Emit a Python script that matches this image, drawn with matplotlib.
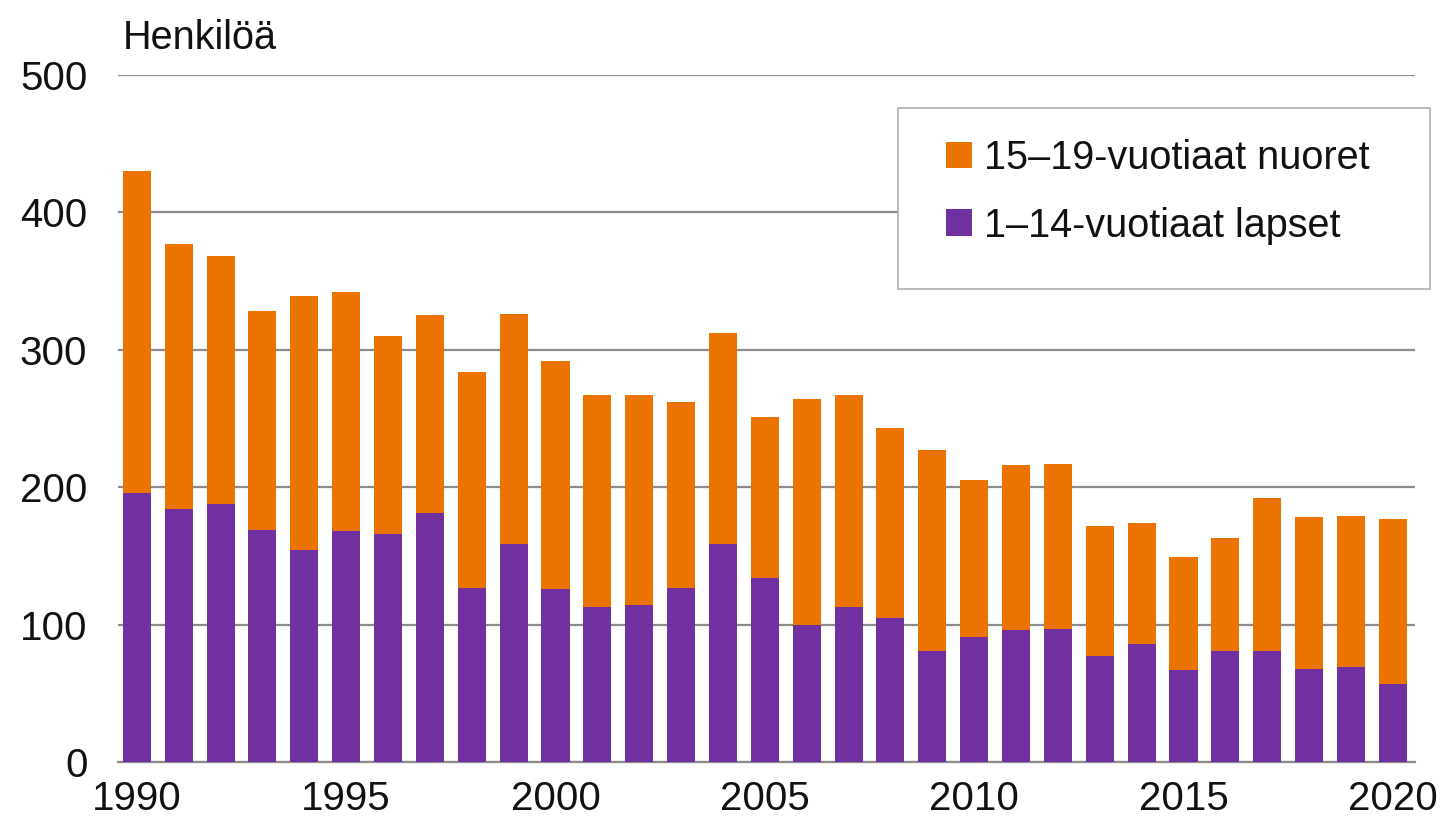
import matplotlib.pyplot as plt
from matplotlib.patches import Rectangle
import numpy as np

plt.rcParams['font.family'] = ['Liberation Sans', 'DejaVu Sans']

years = np.arange(1990, 2021)
total = [430, 377, 368, 328, 339, 342, 310, 325, 284, 326,
         292, 267, 267, 262, 312, 251, 264, 267, 243, 227,
         205, 216, 217, 172, 174, 149, 163, 192, 178, 179, 177]
children = [196, 184, 188, 169, 154, 168, 166, 181, 127, 159,
            126, 113, 114, 127, 159, 134, 100, 113, 105, 81,
            91, 96, 97, 77, 86, 67, 81, 81, 68, 69, 57]
youth = [t - c for t, c in zip(total, children)]

orange = '#EB7400'
purple = '#7030A0'

W, H = 1441, 827
fig = plt.figure(figsize=(W/100, H/100), dpi=100)
ax = fig.add_axes([118/W, 1 - 762/H, (1415-118)/W, (762-75)/H])

ax.bar(years, children, width=0.67, color=purple, label='1–14-vuotiaat lapset', zorder=3)
ax.bar(years, youth, width=0.67, bottom=children, color=orange,
       label='15–19-vuotiaat nuoret', zorder=3)

ax.set_ylim(0, 500)
ax.set_xlim(1989.55, 2020.53)
ax.set_yticks([0, 100, 200, 300, 400, 500])
ax.set_xticks([1990, 1995, 2000, 2005, 2010, 2015, 2020])
ax.yaxis.grid(True, color='#8c8c8c', linewidth=1.6, zorder=0)
ax.tick_params(axis='both', length=0, labelsize=29, colors='#111111')
ax.tick_params(axis='y', pad=22)
ax.tick_params(axis='x', pad=13)
for s in ['top', 'right', 'left']:
    ax.spines[s].set_visible(False)
ax.spines['bottom'].set_color('#8c8c8c')
ax.spines['bottom'].set_linewidth(1.6)

fig.text(123/W, 1 - 38/H, 'Henkilöä', fontsize=28.5, va='center', ha='left', color='#111111')

# legend box
box = Rectangle((898/W, 1 - 289/H), (1430-898)/W, (289-108)/H,
                transform=fig.transFigure, facecolor='white',
                edgecolor='#b0b0b0', linewidth=1.2, zorder=4)
fig.patches.append(box)

h, l = ax.get_legend_handles_labels()
leg = fig.legend(h[::-1], l[::-1], loc='upper left',
                 bbox_to_anchor=(946/W, 1 - 139/H), fontsize=28.5,
                 frameon=False, handlelength=0.66, handleheight=0.66,
                 handletextpad=0.3, labelspacing=0.75, borderpad=0,
                 borderaxespad=0)
leg.set_zorder(5)
for t in leg.get_texts():
    t.set_color('#111111')

fig.savefig('out.png', dpi=100)
